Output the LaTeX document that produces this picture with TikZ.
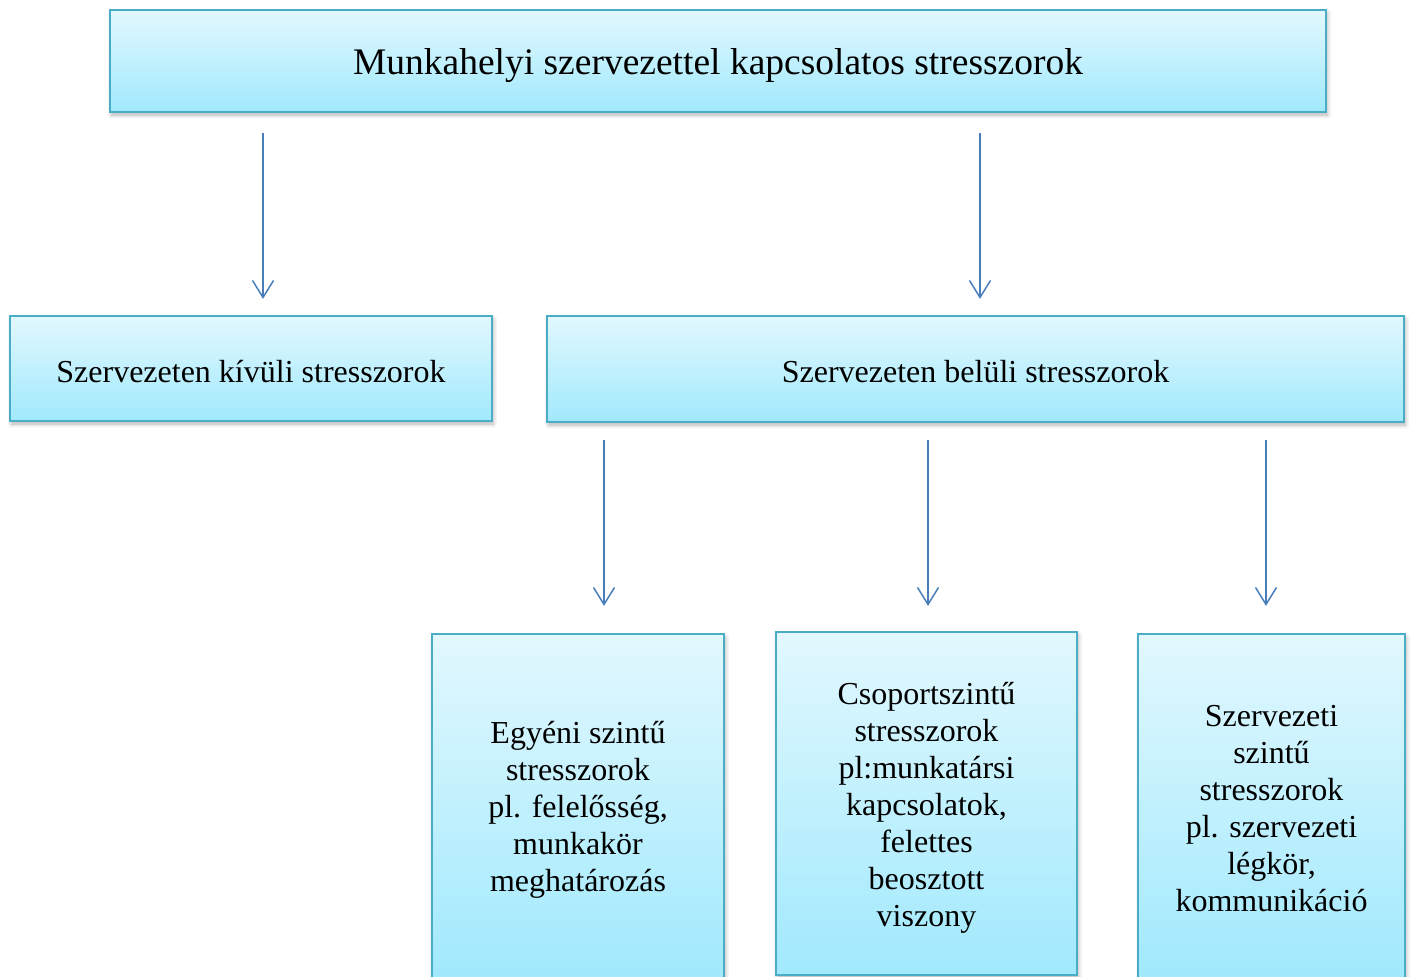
\documentclass[tikz,border=0pt]{standalone}
\usepackage{fontspec}
\setmainfont{Liberation Serif}
\usetikzlibrary{arrows.meta,shadows.blur}
\definecolor{boxtop}{HTML}{E2F8FE}
\definecolor{boxbot}{HTML}{A1E9FD}
\definecolor{boxline}{HTML}{4BACC6}
\definecolor{arrcol}{HTML}{4A7EBB}
\tikzset{
  box/.style={draw=boxline, line width=2.2pt, top color=boxtop, bottom color=boxbot,
    inner sep=0pt,
    blur shadow={shadow xshift=1.5pt, shadow yshift=-3pt, shadow blur radius=4pt, shadow blur steps=6, shadow opacity=30}},
  boxtext/.style={align=center, text=black, inner sep=0pt, font=\fontsize{32}{37}\selectfont},
  arr/.style={draw=arrcol, line width=1.5pt, -{Straight Barb[length=17pt,width=21pt,line width=1.5pt]}}
}
\begin{document}
\begin{tikzpicture}[x=1pt,y=-1pt]
\useasboundingbox (0,0) rectangle (1411,977);
\clip (0,0) rectangle (1411,977);
\node[box, minimum width=1216pt, minimum height=102pt] (top) at (718,61) {};
\node[box, minimum width=482pt, minimum height=105pt] (lft) at (251,368.5) {};
\node[box, minimum width=857pt, minimum height=106pt] (rgt) at (975.5,369) {};
\node[box, minimum width=292pt, minimum height=344pt] (b1) at (578,806) {};
\node[box, minimum width=301pt, minimum height=343pt] (b2) at (926.5,803.5) {};
\node[box, minimum width=267pt, minimum height=344pt] (b3) at (1271.5,806) {};
\node[boxtext, font=\fontsize{37.5}{42}\selectfont] (ttop) at ([yshift=-5pt]top.center) {Munkahelyi szervezettel kapcsolatos stresszorok};
\node[boxtext] (tlft) at ([yshift=-3pt]lft.center) {Szervezeten kívüli stresszorok};
\node[boxtext] (trgt) at ([yshift=-3pt]rgt.center) {Szervezeten belüli stresszorok};
\node[boxtext] (tb1) at ([yshift=-4pt]b1.center) {Egyéni szintű\\stresszorok\\pl. felelősség,\\munkakör\\meghatározás};
\node[boxtext] (tb2) at ([yshift=-4pt]b2.center) {Csoportszintű\\stresszorok\\pl:munkatársi\\kapcsolatok,\\felettes\\beosztott\\viszony};
\node[boxtext] (tb3) at ([yshift=-3pt]b3.center) {Szervezeti\\szintű\\stresszorok\\pl. szervezeti\\légkör,\\kommunikáció};
\coordinate (a1) at (263,0);
\coordinate (a2) at (980,0);
\coordinate (a3) at (604,0);
\coordinate (a4) at (928,0);
\coordinate (a5) at (1266,0);
\draw[arr, shorten <=20pt, shorten >=16pt] (top.south -| a1) -- (lft.north -| a1);
\draw[arr, shorten <=20pt, shorten >=16pt] (top.south -| a2) -- (rgt.north -| a2);
\draw[arr, shorten <=17pt, shorten >=27pt] (rgt.south -| a3) -- (b1.north -| a3);
\draw[arr, shorten <=17pt, shorten >=25pt] (rgt.south -| a4) -- (b2.north -| a4);
\draw[arr, shorten <=17pt, shorten >=27pt] (rgt.south -| a5) -- (b3.north -| a5);
\end{tikzpicture}
\end{document}
